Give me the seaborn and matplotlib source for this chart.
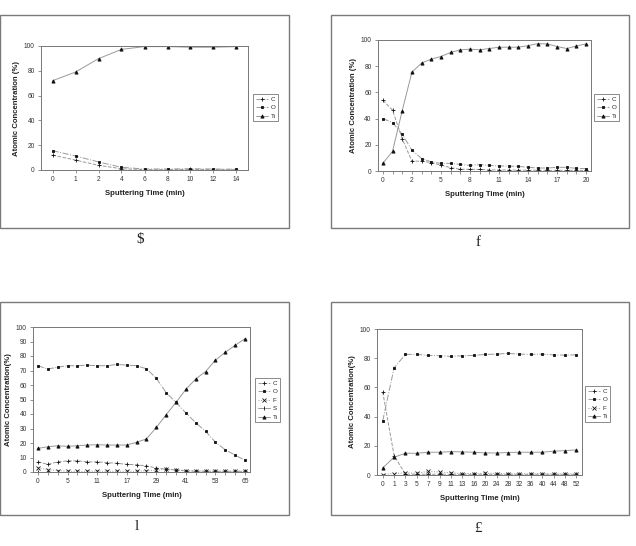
import numpy as np
import pandas as pd
import matplotlib
matplotlib.use("Agg")
import matplotlib.pyplot as plt
from matplotlib.patches import Rectangle
import seaborn as sns

sns.set_style("white")
plt.rcParams['font.family'] = ['Liberation Sans', 'DejaVu Sans']

# ---- panel a ----
time_a = ["0", "1", "2", "4", "6", "8", "10", "12", "14"]
c_a = [12, 8, 3.8, 1, 0.3, 0.3, 0.5, 0.3, 0.3]
o_a = [15.6, 11.3, 6.5, 2.2, 0.8, 0.8, 1, 0.8, 0.6]
ti_a = [72, 79, 89.8, 97.3, 99.5, 99.5, 99, 99, 99.5]

# ---- panel b ----
time_b = ["0", "0.5", "1"] + [str(t) for t in range(2, 21)]
c_b = [54, 46.5, 24.6, 7.5, 7.5, 6.3, 4.5, 2.5, 1.3, 1.3, 1.2, 0.8, 0.8, 0.7,
       0.7, 0.6, 0.6, 0.5, 0.5, 0.5, 0.5, 0.5]
o_b = [40, 37, 28, 16, 9.5, 7, 5.8, 5.8, 5, 4.3, 4.8, 4.3, 3.8, 3.8, 3.5,
       2.8, 2.3, 2.3, 2.8, 2.8, 2, 1.8]
ti_b = [5.8, 15, 46, 75.4, 82.4, 85.4, 87.4, 90.5, 92.5, 93, 92.5, 93.5,
        94.5, 94.5, 94.5, 95.7, 97.2, 97, 95, 93.5, 95.5, 97]

# ---- panel c ----
time_c = ["0", "1", "3", "5", "7", "9", "11", "13", "15", "17", "21", "25",
          "29", "33", "37", "41", "45", "49", "53", "57", "61", "65"]
c_c = [7, 5.3, 7, 7.7, 7.7, 7, 7, 6.5, 6, 5.3, 5, 4.2, 2.8, 1.9, 1.4, 0.7,
       0.5, 0.5, 0.5, 0.5, 0.5, 0.5]
o_c = [73.3, 71, 72.3, 73.3, 73.3, 73.7, 73.3, 73.3, 74.2, 73.7, 73.3, 71.2,
       64.7, 54.7, 48, 40.7, 34, 28, 20.5, 15.3, 11.6, 8]
f_c = [3, 1.5, 1, 0.5, 0.5, 0.5, 0.5, 0.5, 0.5, 0.5, 0.5, 0.8, 1.2, 2, 1.5,
       1, 0.8, 0.6, 0.5, 0.5, 0.4, 0.4]
s_c = [0.3] * 22
ti_c = [16.3, 17.4, 18.1, 17.7, 18.1, 18.6, 18.8, 18.6, 18.6, 18.6, 20.5,
        22.8, 30.7, 39.5, 48, 57, 64.2, 69.3, 77.2, 82.6, 87.4, 92]

# ---- panel d ----
time_d = ["0", "1", "3", "5", "7", "9", "11", "13", "16", "20", "24", "28",
          "32", "36", "40", "44", "48", "52"]
c_d = [57, 13.3, 0.5, 0.5, 0.5, 0.5, 0.5, 0.5, 0.5, 0.5, 0.5, 0.5, 0.5, 0.5,
       0.5, 0.5, 0.5, 0.5]
o_d = [37, 73.4, 82.6, 82.6, 81.9, 81.7, 81.2, 81.7, 81.9, 82.6, 82.8, 83.3,
       82.8, 82.6, 82.8, 82.3, 82.1, 82.3]
f_d = [0.3, 1, 1.5, 1.2, 2.5, 2, 1.5, 1, 1, 1.2, 1, 0.8, 0.8, 0.8, 1, 0.6,
       0.6, 0.6]
ti_d = [4.8, 12.2, 14.9, 14.9, 15.6, 15.6, 16, 15.8, 15.6, 15.1, 15.1, 15.4,
        15.6, 15.6, 15.6, 16.3, 16.7, 17.2]

STY = {
    "C": dict(marker="+", linestyle="--", markersize=3.0),
    "O": dict(marker="s", linestyle="-.", markersize=2.1),
    "F": dict(marker="x", linestyle=":", markersize=2.2),
    "S": dict(marker="|", linestyle="-", markersize=2.5),
    "Ti": dict(marker="^", linestyle="-", markersize=2.3),
}

W, H = 636, 546
fig = plt.figure(figsize=(W / 100, H / 100), dpi=100)


def px_axes(x0, y0, x1, y1):
    return fig.add_axes([x0 / W, 1 - y1 / H, (x1 - x0) / W, (y1 - y0) / H])


def panel(rect, times, series, yticks, every, ylabel, leg_xy):
    ax = px_axes(*rect)
    pos = np.arange(len(times))
    for name, vals in series.items():
        df = pd.DataFrame({"pos": pos, "val": vals})
        sns.lineplot(data=df, x="pos", y="val", ax=ax, color="#9a9a9a",
                     linewidth=0.7, markerfacecolor="#111111",
                     markeredgecolor="#111111", markeredgewidth=0.6,
                     label=name, **STY[name])
    ax.set_xlim(-0.5, len(times) - 0.5)
    ax.set_ylim(0, 100)
    ax.set_yticks(yticks)
    ax.set_yticklabels([str(v) for v in yticks], fontsize=4.8, color="#333333")
    ax.set_xticks(pos)
    ax.set_xticklabels([t if i % every == 0 else "" for i, t in enumerate(times)],
                       fontsize=4.8, color="#333333")
    ax.tick_params(axis="both", length=2, width=0.5, color="#666666",
                   direction="out", pad=2.5, bottom=True, left=True)
    for sp in ax.spines.values():
        sp.set_color("#777777")
        sp.set_linewidth(0.7)
    ax.set_xlabel("Sputtering Time (min)", fontsize=5.6, fontweight="bold",
                  color="#222222", labelpad=5)
    ax.set_ylabel(ylabel, fontsize=5.6, fontweight="bold", color="#222222",
                  labelpad=3)
    ax.legend(loc="upper left", bbox_to_anchor=(leg_xy[0] / W, 1 - leg_xy[1] / H),
              bbox_transform=fig.transFigure, fontsize=4.5, frameon=True,
              fancybox=False, edgecolor="#777777", framealpha=1,
              handlelength=2.0, handletextpad=0.4, borderpad=0.4,
              labelspacing=0.5, borderaxespad=0)
    ax.get_legend().get_frame().set_linewidth(0.6)
    return ax


panel((41, 46, 248, 170), time_a, {"C": c_a, "O": o_a, "Ti": ti_a},
      [0, 20, 40, 60, 80, 100], 1, "Atomic Concentration (%)", (253, 94))
panel((378, 40, 591, 171), time_b, {"C": c_b, "O": o_b, "Ti": ti_b},
      [0, 20, 40, 60, 80, 100], 3, "Atomic Concentration (%)", (594, 94))
panel((33, 327, 250, 472), time_c,
      {"C": c_c, "O": o_c, "F": f_c, "S": s_c, "Ti": ti_c},
      list(range(0, 101, 10)), 3, "Atomic Concentration(%)", (255, 378))
panel((377, 329, 582, 475), time_d,
      {"C": c_d, "O": o_d, "F": f_d, "Ti": ti_d},
      [0, 20, 40, 60, 80, 100], 1, "Atomic Concentration(%)", (585, 386))

# outer frames around each chart
for x0, y0, x1, y1 in [(0, 15, 289, 228), (331, 15, 629, 228),
                       (0, 302, 289, 515), (331, 302, 629, 515)]:
    fig.patches.append(Rectangle((x0 / W, 1 - y1 / H), (x1 - x0) / W,
                                 (y1 - y0) / H, transform=fig.transFigure,
                                 fill=False, edgecolor="#7a7a7a", linewidth=1.0))

# captions under the frames
for txt, x, y in [("$", 140, 240), ("f", 478, 243), ("l", 137, 527), ("£", 478, 529)]:
    fig.text(x / W, 1 - y / H, txt, ha="center", va="center", fontsize=11,
             family=["Liberation Serif", "DejaVu Serif"], color="#222222")

fig.savefig("out.png", dpi=100, facecolor="white")
